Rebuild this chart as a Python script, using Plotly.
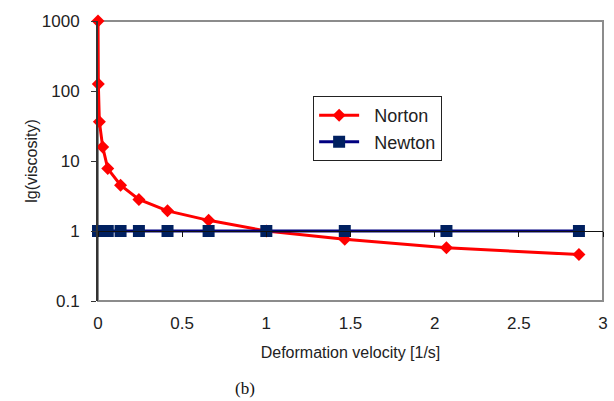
import plotly.graph_objects as go

velocity = [0.0002, 0.002, 0.008, 0.028, 0.058, 0.134, 0.243, 0.413, 0.657, 1.0, 1.466, 2.07, 2.857]
norton = [1000, 126, 36.5, 15.8, 7.8, 4.5, 2.82, 1.94, 1.42, 1.0, 0.76, 0.578, 0.46]
newton = [1, 1, 1, 1, 1, 1, 1, 1, 1, 1, 1, 1, 1]
y_tickvals = [0.1, 1, 10, 100, 1000]
y_ticktext = ["0.1", "1", "10", "100", "1000"]
x_tickvals = [0, 0.5, 1, 1.5, 2, 2.5, 3]
x_ticktext = ["0", "0.5", "1", "1.5", "2", "2.5", "3"]

font = "Liberation Sans, Arial, sans-serif"
pad = "\u00a0\u00a0"

fig = go.Figure()
fig.add_trace(go.Scatter(
    x=velocity, y=norton, name=pad + "Norton", mode="lines+markers",
    line=dict(color="#FF0000", width=3),
    marker=dict(symbol="diamond", size=10, color="#FF0000"),
    cliponaxis=False,
))
fig.add_trace(go.Scatter(
    x=velocity, y=newton, name=pad + "Newton", mode="lines+markers",
    line=dict(color="#000080", width=3),
    marker=dict(symbol="square", size=12, color="#002060"),
    cliponaxis=False,
))
# invisible trace to anchor the crossing x axis at y = 1
fig.add_trace(go.Scatter(x=[0, 3], y=[1, 1], xaxis="x2", mode="lines",
                         line=dict(width=0), showlegend=False, hoverinfo="skip"))

fig.update_layout(
    width=614, height=401,
    margin=dict(l=98, r=11, t=21, b=100),
    paper_bgcolor="white", plot_bgcolor="white",
    font=dict(family=font, size=17, color="#222222"),
    showlegend=True,
    legend=dict(x=0.426, y=0.732, xanchor="left", yanchor="top",
                bordercolor="#222222", borderwidth=1, bgcolor="white",
                font=dict(size=18, color="#222222"), tracegroupgap=4,
                itemwidth=40),
    xaxis=dict(range=[0, 3], tickvals=x_tickvals, ticktext=x_ticktext,
               showgrid=False, zeroline=False, showline=False, ticks="",
               ticklabelstandoff=10, automargin=False,
               title=dict(text="Deformation velocity [1/s]", font=dict(size=16), standoff=14)),
    xaxis2=dict(range=[0, 3], overlaying="x", anchor="free", position=0.25,
                tickvals=x_tickvals, showticklabels=False, ticks="outside",
                ticklen=5, tickcolor="#111111", showline=True, linecolor="#111111",
                linewidth=1, showgrid=False, zeroline=False, automargin=False),
    yaxis=dict(type="log", range=[-1, 3], tickvals=y_tickvals, ticktext=y_ticktext,
               showgrid=False, zeroline=False, showline=True, linecolor="#333333",
               linewidth=2, ticks="outside", ticklen=5, tickcolor="#333333",
               ticklabelstandoff=8, automargin=False,
               title=dict(text="lg(viscosity)", font=dict(size=16), standoff=0)),
    shapes=[dict(type="rect", xref="paper", yref="paper", x0=0, x1=1, y0=0, y1=1,
                 line=dict(color="#8C8C8C", width=2), layer="below")],
    annotations=[dict(text="(b)", xref="paper", yref="paper", x=0.291, y=-0.312,
                      xanchor="center", yanchor="middle", showarrow=False,
                      font=dict(family="Liberation Serif, Times New Roman, serif", size=17, color="#111111"))],
)

fig.write_html("out.html", config={"displayModeBar": False},
               post_script="document.body.style.margin='0';document.body.style.overflow='hidden';")
